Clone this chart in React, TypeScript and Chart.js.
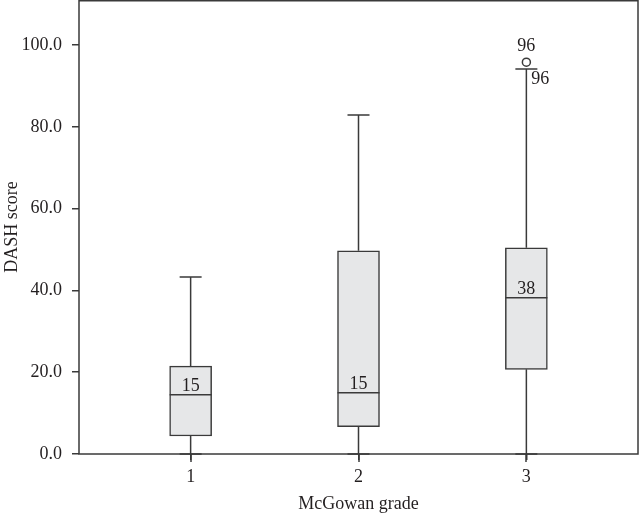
import React, { useEffect, useRef } from "react";
import { Chart, registerables } from "chart.js";

Chart.register(...registerables);

const categories = ["1", "2", "3"];
const mins = [0, 0, 0];
const q1s = [4.4, 6.7, 20.7];
const medians = [14.5, 15.0, 38.2];
const q3s = [21.5, 49.7, 50.4];
const maxs = [43.3, 82.9, 94.1];
const medianLabels = ["15", "15", "38"];
const outlierX = [3];
const outlierY = [95.8];
const outlierLabels = ["96"];
const whiskerLabels = ["96"];
const yTicks = [0, 20, 40, 60, 80, 100];

const INK = "#3a3a3a";
const TEXT = "#231f20";
const FONT = "Liberation Serif";
const FS = 18;

const boxPlugin = {
  id: "boxExtras",
  beforeDatasetsDraw(chart: any) {
    const { ctx, scales } = chart;
    const x = scales.x;
    const y = scales.y;
    ctx.save();
    ctx.strokeStyle = INK;
    ctx.lineWidth = 1.5;
    categories.forEach((_, i) => {
      const cx = x.getPixelForValue(i + 1);
      const cap = 11;
      ctx.beginPath();
      ctx.moveTo(cx, y.getPixelForValue(q3s[i]));
      ctx.lineTo(cx, y.getPixelForValue(maxs[i]));
      ctx.moveTo(cx - cap, y.getPixelForValue(maxs[i]));
      ctx.lineTo(cx + cap, y.getPixelForValue(maxs[i]));
      ctx.moveTo(cx, y.getPixelForValue(q1s[i]));
      ctx.lineTo(cx, y.getPixelForValue(mins[i]));
      ctx.moveTo(cx - cap, y.getPixelForValue(mins[i]));
      ctx.lineTo(cx + cap, y.getPixelForValue(mins[i]));
      ctx.stroke();
    });
    ctx.restore();
  },
  afterDatasetsDraw(chart: any) {
    const { ctx, scales } = chart;
    const x = scales.x;
    const y = scales.y;
    ctx.save();
    ctx.strokeStyle = INK;
    ctx.lineWidth = 1.5;
    ctx.fillStyle = TEXT;
    ctx.font = `${FS}px "${FONT}"`;
    categories.forEach((_, i) => {
      const cx = x.getPixelForValue(i + 1);
      const my = y.getPixelForValue(medians[i]);
      ctx.beginPath();
      ctx.moveTo(cx - 21, my);
      ctx.lineTo(cx + 21, my);
      ctx.stroke();
      ctx.textAlign = "center";
      ctx.textBaseline = "alphabetic";
      ctx.fillText(medianLabels[i], cx, my - 4);
    });
    outlierX.forEach((ox, j) => {
      const px = x.getPixelForValue(ox);
      const py = y.getPixelForValue(outlierY[j]);
      ctx.textAlign = "center";
      ctx.textBaseline = "middle";
      ctx.fillText(outlierLabels[j], px, py - 16);
      ctx.textAlign = "left";
      ctx.fillText(whiskerLabels[j], px + 5, py + 17);
    });
    const a = chart.chartArea;
    ctx.strokeRect(a.left, a.top + 0.75, a.right - a.left, a.bottom - a.top - 0.75);
    // x-axis tick marks at category positions
    ctx.beginPath();
    x.ticks.forEach((t: any) => {
      const px = Math.round(x.getPixelForValue(t.value));
      ctx.moveTo(px, a.bottom);
      ctx.lineTo(px, a.bottom + 8);
    });
    ctx.stroke();
    ctx.restore();
  },
};

export default function App() {
  const ref = useRef<HTMLCanvasElement>(null);
  useEffect(() => {
    const chart = new Chart(ref.current as HTMLCanvasElement, {
      type: "bar",
      data: {
        datasets: [
          {
            type: "bar",
            data: categories.map((_, i) => ({ x: i + 1, y: [q1s[i], q3s[i]] })) as any,
            backgroundColor: "#e6e7e8",
            borderColor: INK,
            borderWidth: 1.5,
            borderSkipped: false,
            barThickness: 42,
          } as any,
          {
            type: "scatter",
            data: outlierX.map((ox, j) => ({ x: ox, y: outlierY[j] })),
            pointStyle: "circle",
            pointRadius: 4,
            backgroundColor: "#ffffff",
            borderColor: INK,
            borderWidth: 1.5,
            clip: false,
          } as any,
        ],
      },
      options: {
        animation: false,
        responsive: true,
        maintainAspectRatio: false,
        layout: { autoPadding: false, padding: { top: 0, right: 2, bottom: 0, left: 0 } },
        plugins: { legend: { display: false }, tooltip: { enabled: false } },
        scales: {
          x: {
            type: "linear",
            offset: false,
            min: 0.335,
            max: 3.665,
            afterBuildTicks: (axis: any) => {
              axis.ticks = categories.map((_, i) => ({ value: i + 1 }));
            },
            afterFit: (scale: any) => {
              scale.height = 63;
              scale.paddingLeft = 0;
              scale.paddingRight = 0;
              scale.paddingTop = 0;
              scale.paddingBottom = 0;
            },
            ticks: {
              callback: (v: any) => categories[Math.round(v) - 1] ?? "",
              color: TEXT,
              font: { family: FONT, size: FS },
              padding: 6,
              maxRotation: 0,
            },
            grid: {
              display: true,
              offset: false,
              drawOnChartArea: false,
              drawTicks: true,
              tickLength: 6,
              color: INK,
              lineWidth: 1.5,
            },
            border: { display: false },
            title: {
              display: true,
              text: "McGowan grade",
              color: TEXT,
              font: { family: FONT, size: FS },
              padding: { top: 0, bottom: 2 },
            },
          },
          y: {
            min: 0,
            max: 111,
            afterBuildTicks: (axis: any) => {
              axis.ticks = yTicks.map((v) => ({ value: v }));
            },
            afterFit: (scale: any) => {
              scale.width = 79;
              scale.paddingLeft = 0;
              scale.paddingRight = 0;
              scale.paddingTop = 0;
              scale.paddingBottom = 0;
            },
            ticks: {
              callback: (v: any) => Number(v).toFixed(1),
              color: TEXT,
              font: { family: FONT, size: FS },
              padding: 10,
            },
            grid: {
              display: true,
              drawOnChartArea: false,
              drawTicks: true,
              tickLength: 7,
              color: INK,
              lineWidth: 1.5,
            },
            border: { display: false },
            title: {
              display: true,
              text: "DASH score",
              color: TEXT,
              font: { family: FONT, size: FS },
              padding: { top: 1, bottom: 0 },
            },
          },
        },
      } as any,
      plugins: [boxPlugin],
    });
    return () => chart.destroy();
  }, []);
  return (
    <div style={{ position: "fixed", left: 0, top: 0, width: 640, height: 517, background: "#fff" }}>
      <canvas ref={ref} />
    </div>
  );
}
